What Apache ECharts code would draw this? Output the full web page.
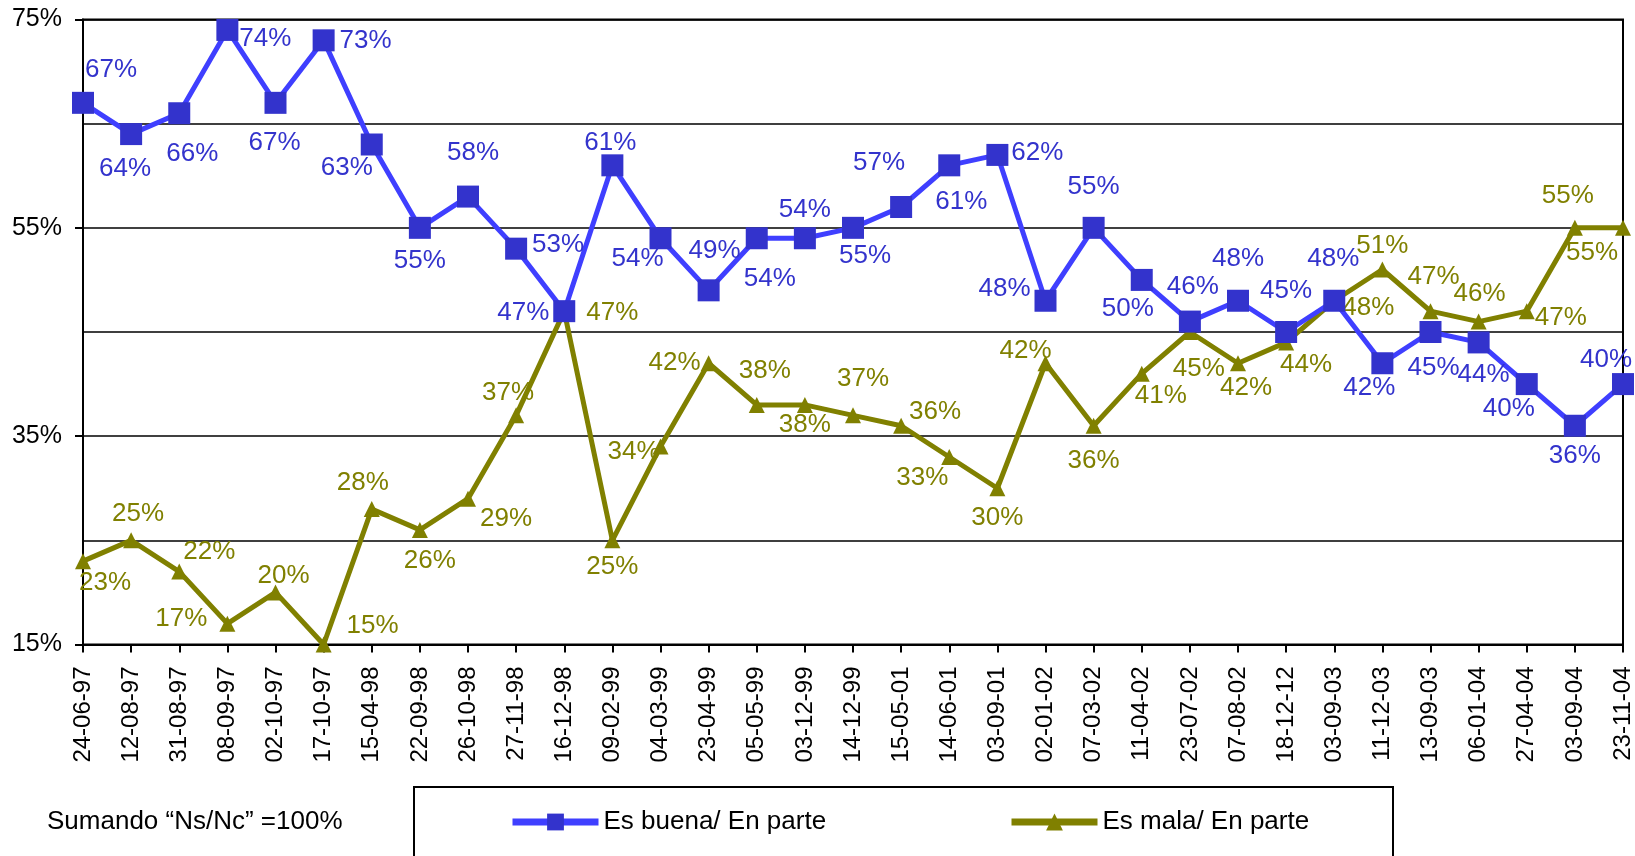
<!DOCTYPE html>
<html>
<head>
<meta charset="utf-8">
<script src="https://cdn.jsdelivr.net/npm/echarts@6/dist/echarts.min.js"></script>
<style>
html,body{margin:0;padding:0;background:#fff;}
#chart{width:1635px;height:856px;}
</style>
</head>
<body>
<div id="chart"></div>
<script>
const categories = ['24-06-97','12-08-97','31-08-97','08-09-97','02-10-97','17-10-97','15-04-98','22-09-98','26-10-98','27-11-98','16-12-98','09-02-99','04-03-99','23-04-99','05-05-99','03-12-99','14-12-99','15-05-01','14-06-01','03-09-01','02-01-02','07-03-02','11-04-02','23-07-02','07-08-02','18-12-12','03-09-03','11-12-03','13-09-03','06-01-04','27-04-04','03-09-04','23-11-04'];
const buenaValues = [67,64,66,74,67,73,63,55,58,53,47,61,54,49,54,54,55,57,61,62,48,55,50,46,48,45,48,42,45,44,40,36,40];
const malaValues  = [23,25,22,17,20,15,28,26,29,37,47,25,34,42,38,38,37,36,33,30,42,36,41,45,42,44,48,51,47,46,47,55,55];
const seriesNames = ['Es buena/ En parte','Es mala/ En parte'];
const yTicks = [15,35,55,75];
const noteText = 'Sumando \u201cNs/Nc\u201d =100%';

// label offsets (style only)
const buenaLabelOffsets = [[28,-33],[-6,35],[13,41],[38,9],[-1,40],[42,0],[-25,23],[0,33],[5,-44],[42,-4],[-41,2],[-2,-23],[-23,21],[6,-40],[13,41],[0,-28],[12,28],[-22,-44],[12,36],[40,-2],[-41,-12],[0,-41],[-14,29],[3,-35],[0,-42],[0,-41],[-1,-42],[-13,25],[3,36],[5,32],[-18,25],[0,30],[-17,-24]];
const malaLabelOffsets = [[22,22],[7,-27],[30,-20],[-46,-5],[8,-17],[49,-19],[-9,-26],[10,31],[38,20],[-8,-23],[48,2],[0,26],[-27,5],[-34,0],[8,-34],[0,20],[10,-37],[34,-14],[-27,21],[0,30],[-20,-12],[0,35],[19,22],[9,37],[8,25],[20,22],[34,7],[0,-24],[3,-34],[1,-28],[34,7],[-7,-32],[-31,25]];

const FONT = "'Liberation Sans', Arial, sans-serif";
const BLUE_LINE = '#3f3fff', BLUE_MARK = '#3333cc', OLIVE = '#808000';

const chart = echarts.init(document.getElementById('chart'), null, {renderer:'canvas'});

function mkData(vals, offs){
  return vals.map((v,i)=>({value:v, label:{offset:offs[i]}}));
}

const legendBase = {itemWidth:86,itemHeight:21,top:804,selectedMode:false,
  textStyle:{color:'#000',fontSize:26,fontFamily:FONT}};

const option = {
  animation:false,
  backgroundColor:'#fff',
  grid:{left:83,right:12,top:19.5,bottom:211.5,show:true,borderColor:'#000',borderWidth:2,backgroundColor:'transparent'},
  xAxis:{
    type:'category', data:categories, boundaryGap:false,
    axisLine:{lineStyle:{color:'#000',width:2}},
    axisTick:{show:true,inside:false,length:8,alignWithLabel:true,lineStyle:{color:'#000',width:2}},
    axisLabel:{rotate:90,margin:22,interval:0,color:'#000',fontSize:24,fontFamily:FONT},
    splitLine:{show:false}
  },
  yAxis:{
    type:'value', min:yTicks[0], max:yTicks[yTicks.length-1], interval:yTicks[1]-yTicks[0],
    axisLine:{show:true,lineStyle:{color:'#000',width:2}},
    axisTick:{show:true,length:8,lineStyle:{color:'#000',width:2}},
    axisLabel:{margin:21,color:'#000',fontSize:25,fontFamily:FONT,formatter:v=>v+'%'},
    splitLine:{show:true,lineStyle:{color:'#000',width:1.5}},
    minorTick:{show:false,splitNumber:2},
    minorSplitLine:{show:true,lineStyle:{color:'#000',width:1.5}}
  },
  legend:[
    Object.assign({data:[seriesNames[0]],left:504,lineStyle:{width:7,color:BLUE_LINE}},legendBase),
    Object.assign({data:[seriesNames[1]],left:1003,lineStyle:{width:7,color:OLIVE}},legendBase)
  ],
  graphic:[
    {type:'rect',shape:{x:414,y:787,width:979,height:90},style:{fill:'none',stroke:'#000',lineWidth:2},silent:true,z:-1},
    {type:'text',left:47,top:809,style:{text:noteText,fill:'#000',font:'26px '+FONT},silent:true}
  ],
  series:[
    {
      name:seriesNames[1], type:'line', data:mkData(malaValues, malaLabelOffsets),
      symbol:'triangle', symbolSize:16, clip:false,
      lineStyle:{color:OLIVE,width:5}, itemStyle:{color:OLIVE},
      label:{show:true,position:'inside',formatter:'{c}%',color:OLIVE,fontSize:26,fontFamily:FONT},
      z:2
    },
    {
      name:seriesNames[0], type:'line', data:mkData(buenaValues, buenaLabelOffsets),
      symbol:'rect', symbolSize:22, clip:false,
      lineStyle:{color:BLUE_LINE,width:5}, itemStyle:{color:BLUE_MARK},
      label:{show:true,position:'inside',formatter:'{c}%',color:BLUE_MARK,fontSize:26,fontFamily:FONT},
      z:3
    }
  ]
};
chart.setOption(option);
</script>
</body>
</html>
